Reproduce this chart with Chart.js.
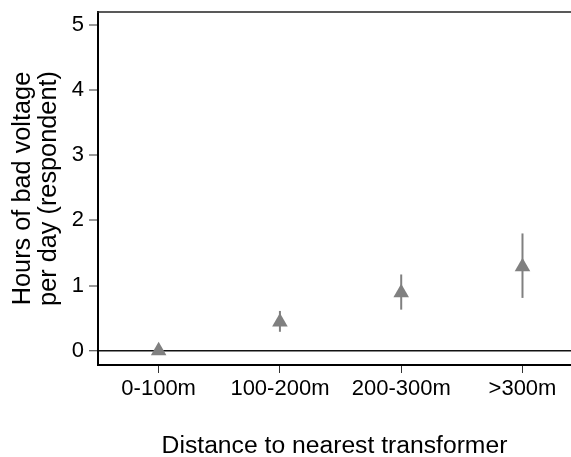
<!DOCTYPE html>
<html>
<head>
<meta charset="utf-8">
<script src="https://cdn.jsdelivr.net/npm/chart.js@4.4.1/dist/chart.umd.min.js"></script>
<style>
  body { margin: 0; background: #fff; }
  #grafico { display: block; }
</style>
</head>
<body>
<canvas id="grafico" width="571" height="457"></canvas>
<script>
// categorie sull'asse x
var categorie = ["0-100m", "100-200m", "200-300m", ">300m"];
// ore di tensione cattiva al giorno (stima puntuale)
var valori = [0.0, 0.44, 0.89, 1.29];
// intervallo di confidenza
var limiteInf = [-0.03, 0.29, 0.63, 0.81];
var limiteSup = [0.04, 0.61, 1.17, 1.80];
// tacche dell'asse y
var tickY = [0, 1, 2, 3, 4, 5];

var grigio = "rgb(128,128,128)";
var font = "'Liberation Sans', Arial, sans-serif";

var punti = [];
for (var i = 0; i < categorie.length; i++) {
    punti.push({ x: i, y: valori[i] });
}

// barre di errore + bordo superiore del riquadro
var barreErrore = {
    id: "barreErrore",
    beforeDatasetsDraw: function (chart) {
        var ctx = chart.ctx;
        var sx = chart.scales.x;
        var sy = chart.scales.y;
        ctx.save();
        ctx.strokeStyle = grigio;
        ctx.lineWidth = 2;
        for (var i = 0; i < categorie.length; i++) {
            var px = sx.getPixelForValue(i);
            ctx.beginPath();
            ctx.moveTo(px, sy.getPixelForValue(limiteInf[i]));
            ctx.lineTo(px, sy.getPixelForValue(limiteSup[i]));
            ctx.stroke();
        }
        ctx.restore();
    },
    afterDraw: function (chart) {
        var ctx = chart.ctx;
        var a = chart.chartArea;
        ctx.save();
        ctx.strokeStyle = "#222";
        ctx.lineWidth = 1.5;
        ctx.beginPath();
        ctx.moveTo(a.left - 1, a.top);
        ctx.lineTo(a.right, a.top);
        ctx.stroke();
        ctx.restore();
    }
};

var chart = new Chart(document.getElementById("grafico"), {
    type: "scatter",
    data: {
        datasets: [{
            data: punti,
            pointStyle: "triangle",
            pointRadius: 9,
            pointBackgroundColor: grigio,
            pointBorderColor: grigio,
            pointBorderWidth: 0
        }]
    },
    options: {
        responsive: false,
        animation: false,
        layout: { autoPadding: false, padding: { top: 12, right: 0, left: 0, bottom: 0 } },
        plugins: { legend: { display: false }, tooltip: { enabled: false } },
        scales: {
            x: {
                type: "linear",
                min: -0.5,
                max: 3.4,
                afterBuildTicks: function (scale) {
                    scale.ticks = categorie.map(function (c, i) { return { value: i }; });
                },
                afterFit: function (scale) {
                    scale.height = 92;
                    scale.paddingLeft = 0;
                    scale.paddingRight = 0;
                },
                ticks: {
                    callback: function (v) { return categorie[v]; },
                    color: "#000",
                    font: { family: font, size: 22 },
                    padding: 3,
                    maxRotation: 0,
                    autoSkip: false
                },
                grid: {
                    drawOnChartArea: false,
                    drawTicks: true,
                    tickLength: 8,
                    tickColor: "#333",
                    tickWidth: 1
                },
                border: { display: true, color: "#000", width: 2 },
                title: {
                    display: true,
                    text: "Distance to nearest transformer",
                    color: "#000",
                    font: { family: font, size: 24.7, lineHeight: "21px" },
                    padding: { top: 0, bottom: 0 }
                }
            },
            y: {
                min: -0.22,
                max: 5.2,
                afterBuildTicks: function (scale) {
                    scale.ticks = tickY.map(function (v) { return { value: v }; });
                },
                afterFit: function (scale) {
                    scale.width = 98;
                    scale.paddingTop = 0;
                    scale.paddingBottom = 0;
                },
                ticks: {
                    color: "#000",
                    font: { family: font, size: 22 },
                    padding: 5
                },
                grid: {
                    drawOnChartArea: true,
                    color: function (c) { return c.tick && c.tick.value === 0 ? "#111" : "rgba(0,0,0,0)"; },
                    lineWidth: function (c) { return c.tick && c.tick.value === 0 ? 1.5 : 0; },
                    tickLength: 9,
                    tickColor: "#333",
                    tickWidth: 1
                },
                border: { display: true, color: "#000", width: 2 },
                title: {
                    display: true,
                    text: ["Hours of bad voltage", "per day (respondent)"],
                    color: "#000",
                    font: { family: font, size: 25.3, lineHeight: "26px" },
                    padding: { top: 10, bottom: 0 }
                }
            }
        }
    },
    plugins: [barreErrore]
});
</script>
</body>
</html>
